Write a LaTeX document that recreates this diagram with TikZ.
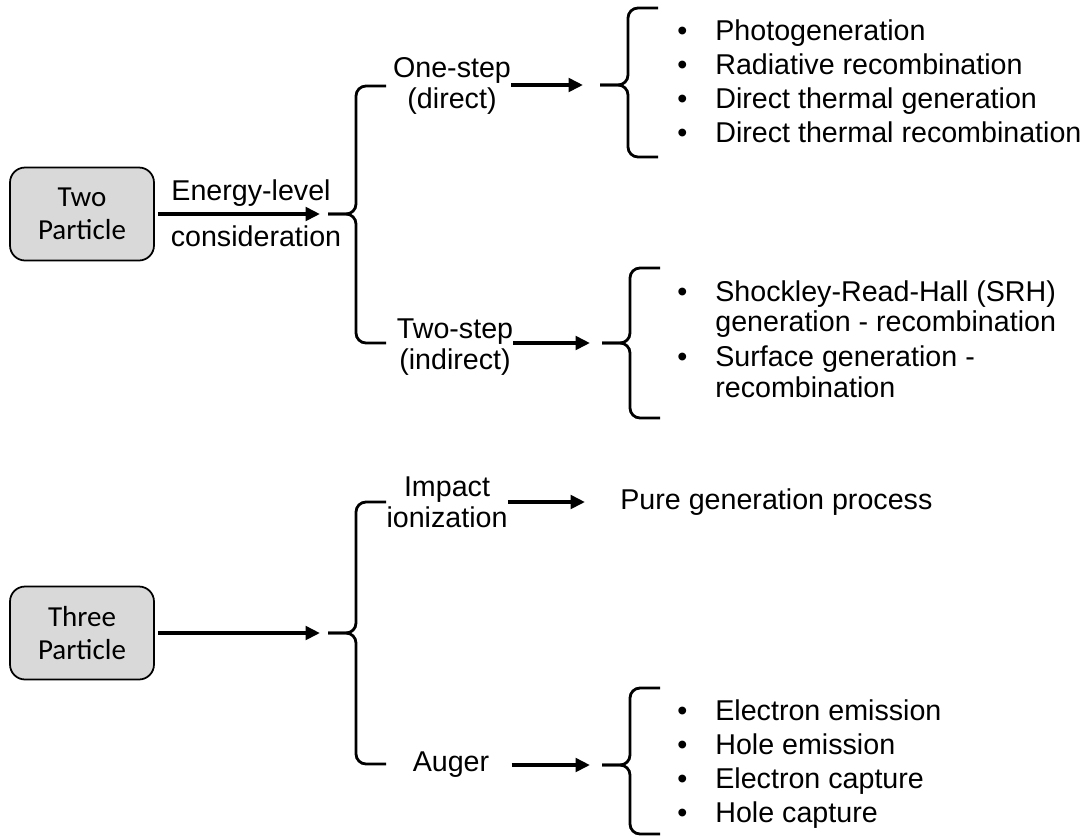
\documentclass[tikz,border=0pt]{standalone}
\usepackage{fontspec}
\setmainfont{Liberation Sans}
\newfontfamily\boxfont{Carlito}
\usepackage{tikz}
\usetikzlibrary{arrows.meta}

% curly bracket: name, tip x, tip y, top y, bottom y
\newcommand{\curly}[5]{%
  \coordinate (#1) at (#2,#3);
  \draw[brace] (#2+58,#4) -- (#2+28,#4) -- (#2+28,#3) -- (#1);
  \draw[brace] (#2+58,#5) -- (#2+28,#5) -- (#2+28,#3) -- (#1);
}

\begin{document}
\begin{tikzpicture}[x=0.02cm,y=-0.02cm,
  font=\fontsize{16.3}{19.4}\selectfont,
  particle/.style={draw,line width=1pt,fill=black!15,rounded corners=0.3cm,
    minimum width=2.88cm,minimum height=1.86cm,align=center,
    font=\boxfont\fontsize{16.5}{18.7}\selectfont},
  lbl/.style={align=center,inner sep=0pt,font=\fontsize{16.3}{17.5}\selectfont},
  arr/.style={-{Triangle[length=0.29cm,width=0.27cm]},line width=2.3pt},
  brace/.style={line width=1.6pt,rounded corners=0.2cm},
  list/.style={anchor=west,inner sep=0pt}]
\useasboundingbox (0,0) rectangle (1084,839);

\node[particle] at (82,214) (two) {Two\\Particle};
\node[particle] at (82,633) (three) {Three\\Particle};

\node[anchor=base,inner sep=0pt] at (251,200) (energy) {Energy-level};
\node[anchor=base,inner sep=0pt] at (256,246) (consid) {consideration};

\curly{b1}{328}{214}{86}{343}
\curly{b2}{600}{85}{8}{157}
\curly{b3}{602}{343}{268}{418}
\curly{b4}{328}{633}{502}{764}
\curly{b5}{602}{765}{688}{834}

\node[lbl] at (452,86) (onestep) {One-step\\(direct)};
\node[lbl] at (455,347) (twostep) {Two-step\\(indirect)};
\node[lbl] at (447,502) (impact) {Impact\\ionization};
\node[lbl] at (451,765) (auger) {Auger};
\node[anchor=west,inner sep=0pt] at (620,502) (pure) {Pure generation process};

\node[list] at (677,85) (direct) {\begin{tabular}{@{}l@{\hspace{0.56cm}}l@{}}
• & Photogeneration\\
• & Radiative recombination\\
• & Direct thermal generation\\
• & Direct thermal recombination
\end{tabular}};
\node[list] at (677,343) (indirect) {\fontsize{16.3}{17.2}\selectfont
\begin{tabular}{@{}l@{\hspace{0.56cm}}l@{}}
• & Shockley-Read-Hall (SRH)\\
  & generation - recombination\\[3pt]
• & Surface generation -\\
  & recombination
\end{tabular}};
\node[list] at (677,765) (augerlist) {\begin{tabular}{@{}l@{\hspace{0.56cm}}l@{}}
• & Electron emission\\
• & Hole emission\\
• & Electron capture\\
• & Hole capture
\end{tabular}};

\draw[arr,shorten <=0.06cm,shorten >=0.16cm] (two.east) -- (b1);
\draw[arr,shorten <=0.06cm,shorten >=0.16cm] (three.east) -- (b4);
\draw[arr,shorten >=0.34cm] (onestep.east |- b2) -- (b2);
\draw[arr,shorten >=0.24cm] (twostep.east |- b3) -- (b3);
\draw[arr,shorten >=0.7cm] (impact.east) -- (pure.west);
\draw[arr,shorten <=0.44cm,shorten >=0.24cm] (auger.east) -- (b5);
\end{tikzpicture}
\end{document}
